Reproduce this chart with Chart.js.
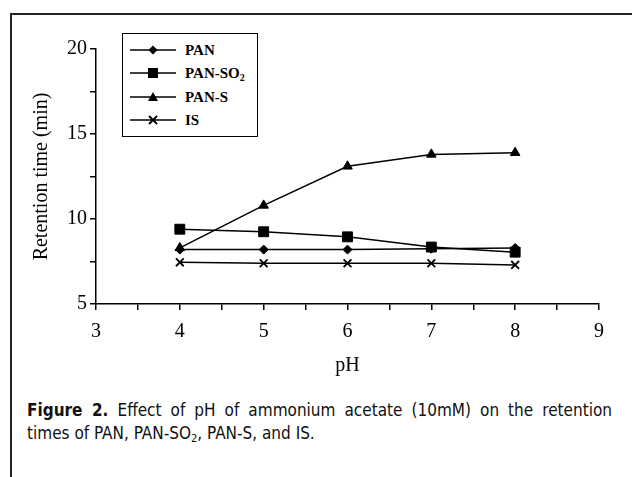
<!DOCTYPE html>
<html>
<head>
<meta charset="utf-8">
<script src="https://cdn.jsdelivr.net/npm/chart.js@4/dist/chart.umd.min.js"></script>
<style>
  body { margin: 0; background: #fff; width: 632px; height: 477px; overflow: hidden; position: relative; }
  #frame { position: absolute; left: 10px; top: 13px; width: 700px; height: 500px; border-top: 2px solid #222; border-left: 2px solid #222; }
  #wrap { position: absolute; left: 0; top: 0; }
  #legend { position: absolute; left: 122px; top: 33px; width: 136px; height: 104px; box-sizing: border-box; border: 1px solid #000; background: #fff; }
  .row { position: absolute; left: 0; height: 20px; font: bold 15px "Liberation Serif", serif; color: #000; }
  .row svg { position: absolute; left: 7px; top: 2px; }
  .row span { position: absolute; left: 62px; top: 0; line-height: 20px; white-space: nowrap; }
  .row sub { font-size: 10px; vertical-align: -3px; line-height: 0; }
  #caption { position: absolute; left: 27px; top: 399px; width: 585px; font: 17px "DejaVu Sans", sans-serif; font-stretch: condensed; line-height: 23px; color: #111; }
  #caption .l1 { text-align: justify; text-align-last: justify; white-space: nowrap; }
  #caption sub { font-size: 11px; vertical-align: -3px; line-height: 0; }
</style>
</head>
<body>
<div id="frame"></div>
<div id="wrap"><canvas id="myChart" width="632" height="380"></canvas></div>
<div id="legend"></div>
<div id="caption">
  <div class="l1"><b>Figure 2.</b> Effect of pH of ammonium acetate (10mM) on the retention</div>
  <div>times of PAN, PAN-SO<sub>2</sub>, PAN-S, and IS.</div>
</div>
<script>
var phValues = [4, 5, 6, 7, 8]
var seriesNames = ["PAN", "PAN-SO2", "PAN-S", "IS"]
var pan = [8.2, 8.2, 8.2, 8.25, 8.3]
var panSO2 = [9.4, 9.25, 8.95, 8.35, 8.05]
var panS = [8.3, 10.8, 13.1, 13.8, 13.9]
var isStd = [7.45, 7.4, 7.4, 7.4, 7.3]
var xTickLabels = [3, 4, 5, 6, 7, 8, 9]
var yTickLabels = [5, 10, 15, 20]

var allSeries = [pan, panSO2, panS, isStd]
var pointStyles = ["rectRot", "rect", "triangle", "crossRot"]
var pointSizes = [4.5, 7, 5.5, 5.5]

var datasets = []
for (var i = 0; i < allSeries.length; i++) {
    var pts = []
    for (var j = 0; j < phValues.length; j++) {
        pts.push({x: phValues[j], y: allSeries[i][j]})
    }
    datasets.push({
        label: seriesNames[i],
        data: pts,
        borderColor: "#000",
        backgroundColor: "#000",
        borderWidth: 1.5,
        pointStyle: pointStyles[i],
        pointRadius: pointSizes[i],
        pointBorderWidth: i == 3 ? 1.8 : 1,
        pointBackgroundColor: "#000",
        pointBorderColor: "#000",
        tension: 0
    })
}

var tickFont = {family: "'Liberation Serif', serif", size: 20}

var myChart = new Chart("myChart", {
    type: "line",
    data: {datasets: datasets},
    options: {
        responsive: false,
        animation: false,
        layout: {padding: {left: 0, right: 33, top: 49, bottom: 0}},
        plugins: {legend: {display: false}, tooltip: {enabled: false}},
        scales: {
            x: {
                type: "linear",
                min: xTickLabels[0],
                max: xTickLabels[xTickLabels.length - 1],
                ticks: {
                    stepSize: 0.5,
                    color: "#000",
                    font: tickFont,
                    padding: 10,
                    maxRotation: 0,
                    autoSkip: false,
                    callback: function(v) { return xTickLabels.indexOf(v) >= 0 ? v : "" }
                },
                grid: {drawOnChartArea: false, drawTicks: true, tickLength: 6, color: "#000", lineWidth: 1.5},
                border: {display: true, color: "#000", width: 1.5},
                title: {display: true, text: "pH", color: "#000", font: tickFont, padding: {top: 2, bottom: 2}},
                afterFit: function(s) { s.height = 76 }
            },
            y: {
                min: yTickLabels[0],
                max: yTickLabels[yTickLabels.length - 1],
                ticks: {
                    stepSize: 2.5,
                    color: "#000",
                    font: tickFont,
                    padding: 3,
                    autoSkip: false,
                    callback: function(v) { return yTickLabels.indexOf(v) >= 0 ? v : "" }
                },
                grid: {drawOnChartArea: false, drawTicks: true, tickLength: 6, color: "#000", lineWidth: 1.5},
                border: {display: true, color: "#000", width: 1.5},
                title: {display: true, text: "Retention time (min)", color: "#000", font: tickFont, padding: {top: 30, bottom: 0}},
                afterFit: function(s) { s.width = 96 }
            }
        }
    }
})

// legend box (html so the subscript stays real text)
var legend = document.getElementById("legend")
var rowTops = [6, 29, 53, 76]
for (var k = 0; k < seriesNames.length; k++) {
    var row = document.createElement("div")
    row.className = "row"
    row.style.top = rowTops[k] + "px"
    var svg = '<svg width="50" height="16" viewBox="0 0 50 16"><line x1="0" y1="8" x2="46" y2="8" stroke="#000" stroke-width="1.5"/>'
    if (pointStyles[k] == "rectRot") svg += '<polygon points="23,3.5 27.5,8 23,12.5 18.5,8" fill="#000"/>'
    if (pointStyles[k] == "rect") svg += '<rect x="18" y="3" width="10" height="10" fill="#000"/>'
    if (pointStyles[k] == "triangle") svg += '<polygon points="23,3 28,12 18,12" fill="#000"/>'
    if (pointStyles[k] == "crossRot") svg += '<path d="M19 4 L27 12 M27 4 L19 12" stroke="#000" stroke-width="1.8"/>'
    svg += '</svg>'
    row.innerHTML = svg + '<span>' + seriesNames[k].replace("SO2", "SO<sub>2</sub>") + '</span>'
    legend.appendChild(row)
}
</script>
</body>
</html>
